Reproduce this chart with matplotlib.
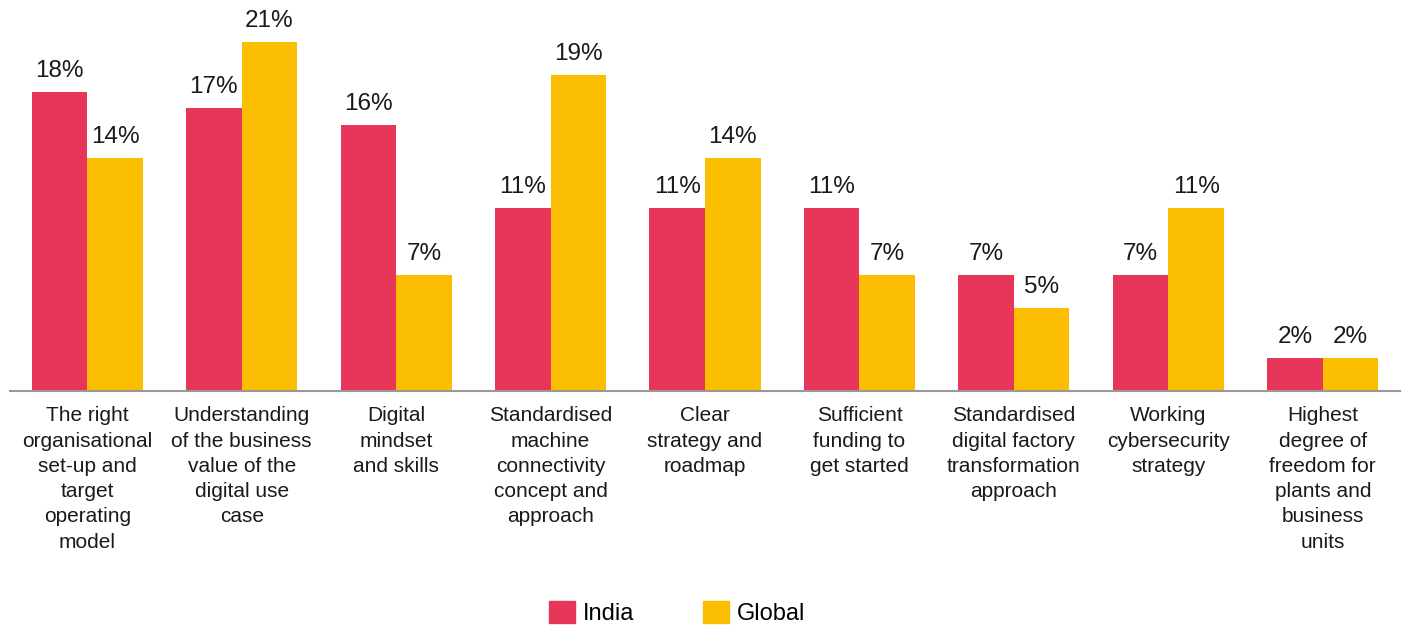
import numpy as np
import matplotlib.pyplot as plt
from matplotlib.patches import Patch

plt.rcParams['font.family'] = ['Liberation Sans', 'DejaVu Sans']

categories = [
    'The right\norganisational\nset-up and\ntarget\noperating\nmodel',
    'Understanding\nof the business\nvalue of the\ndigital use\ncase',
    'Digital\nmindset\nand skills',
    'Standardised\nmachine\nconnectivity\nconcept and\napproach',
    'Clear\nstrategy and\nroadmap',
    'Sufficient\nfunding to\nget started',
    'Standardised\ndigital factory\ntransformation\napproach',
    'Working\ncybersecurity\nstrategy',
    'Highest\ndegree of\nfreedom for\nplants and\nbusiness\nunits',
]
india = [18, 17, 16, 11, 11, 11, 7, 7, 2]
global_vals = [14, 21, 7, 19, 14, 7, 5, 11, 2]

RED = '#E8365B'
YELLOW = '#FBBE00'

fig = plt.figure(figsize=(14.05, 6.28), dpi=100)
ax = fig.add_axes([10 / 1405, 237 / 628, 1390 / 1405, 386 / 628])

x = np.arange(len(categories))
w = 0.36
b1 = ax.bar(x - w / 2, india, w, color=RED)
b2 = ax.bar(x + w / 2, global_vals, w, color=YELLOW)

# percentage labels above each bar
for bars, vals in ((b1, india), (b2, global_vals)):
    for bar, v in zip(bars, vals):
        ax.annotate(f'{v}%', (bar.get_x() + bar.get_width() / 2, v),
                    xytext=(0, 7), textcoords='offset points',
                    ha='center', va='bottom', fontsize=17.5, color='#1a1a1a')

ax.set_xlim(-0.5, len(categories) - 0.5)
ax.set_ylim(0, 23.2)
ax.set_yticks([])
ax.set_xticks(x)
ax.set_xticklabels(categories, fontsize=15, linespacing=1.42, color='#1a1a1a',
                   va='top')
ax.tick_params(axis='x', length=0, pad=11)
for s in ('top', 'right', 'left'):
    ax.spines[s].set_visible(False)
ax.spines['bottom'].set_color('#999999')
ax.spines['bottom'].set_linewidth(1.5)

handles = [Patch(color=RED, label='India'), Patch(color=YELLOW, label='Global')]
fig.legend(handles=handles, loc='center', bbox_to_anchor=(677 / 1405, 0.024),
           ncol=2, frameon=False, fontsize=17, handlelength=1.1,
           handleheight=1.1, handletextpad=0.35, columnspacing=2.9)

fig.savefig('out.png', dpi=100)
